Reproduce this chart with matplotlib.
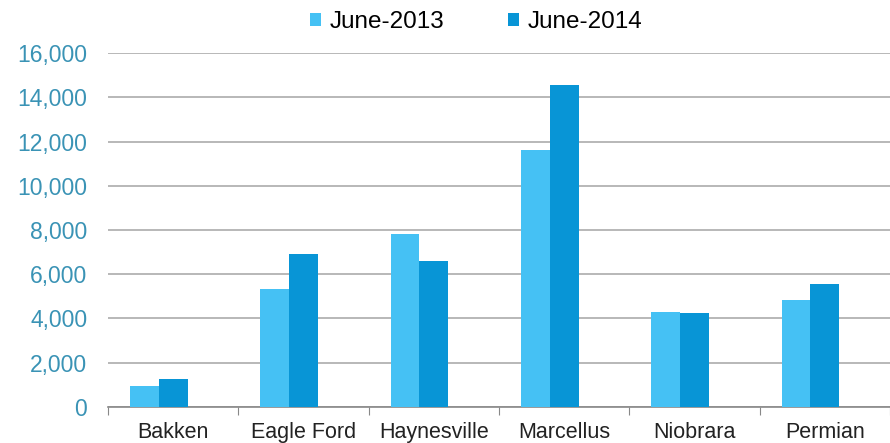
import numpy as np
import matplotlib.pyplot as plt
from matplotlib.ticker import FuncFormatter

plays = ['Bakken', 'Eagle Ford', 'Haynesville', 'Marcellus', 'Niobrara', 'Permian']
june_2013 = [950, 5340, 7820, 11620, 4300, 4830]
june_2014 = [1270, 6910, 6610, 14550, 4230, 5550]

c13 = '#45c1f4'
c14 = '#0895d6'
tick_col = '#3a93b5'

plt.rcParams['font.family'] = ['Liberation Sans', 'DejaVu Sans']

fig = plt.figure(figsize=(8.9, 4.43), dpi=100)
ax = fig.add_axes([108 / 890, 0.082, 782 / 890, 0.7977])

x = np.arange(len(plays))
w = 0.2214  # three slots per category, third one empty
ax.bar(x - w, june_2013, width=w, color=c13, label='June-2013', zorder=3)
ax.bar(x, june_2014, width=w, color=c14, label='June-2014', zorder=3)

ax.set_ylim(0, 16000)
ax.set_xlim(-0.5, -0.5 + 782 / 131)
ax.set_yticks(range(0, 16001, 2000))
ax.yaxis.set_major_formatter(FuncFormatter(lambda v, p: f'{int(v):,}'))
ax.yaxis.grid(True, color='#ababab', linewidth=1.2, zorder=0)
ax.tick_params(axis='y', length=0, labelsize=16.5, labelcolor=tick_col, pad=15)

# category ticks sit on the boundaries, labels in the middle
ax.set_xticks(np.arange(len(plays) + 1) - 0.5)
ax.set_xticklabels([])
ax.set_xticks(x, minor=True)
ax.set_xticklabels(plays, minor=True)
ax.tick_params(axis='x', which='major', length=6, color='#888888', direction='out')
ax.tick_params(axis='x', which='minor', length=0, labelsize=15.5, labelcolor='#222222', pad=11)

for s in ['top', 'right', 'left']:
    ax.spines[s].set_visible(False)
ax.spines['bottom'].set_color('#888888')
ax.spines['bottom'].set_linewidth(1.2)

fig.legend(loc='upper center', bbox_to_anchor=(0.535, 1.025), ncol=2, frameon=False,
           fontsize=17.5, handlelength=0.45, handleheight=0.45, handletextpad=0.35,
           columnspacing=2.65)

fig.savefig('out.png', dpi=100)
